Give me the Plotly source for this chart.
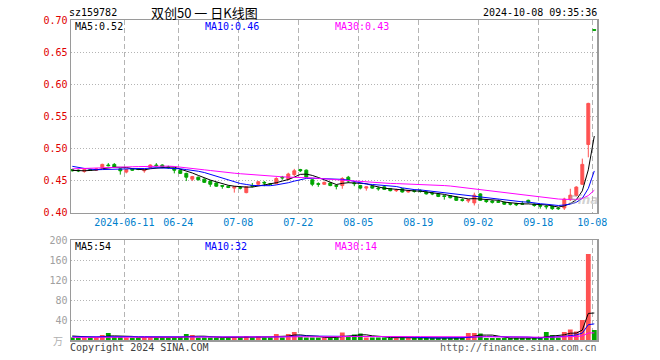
import plotly.graph_objects as go

# ---------------- data ----------------
dates = [
    "2024-05-28", "2024-05-29", "2024-05-30", "2024-05-31",
    "2024-06-03", "2024-06-04", "2024-06-05", "2024-06-06", "2024-06-07",
    "2024-06-11", "2024-06-12", "2024-06-13", "2024-06-14",
    "2024-06-17", "2024-06-18", "2024-06-19", "2024-06-20", "2024-06-21",
    "2024-06-24", "2024-06-25", "2024-06-26", "2024-06-27", "2024-06-28",
    "2024-07-01", "2024-07-02", "2024-07-03", "2024-07-04", "2024-07-05",
    "2024-07-08", "2024-07-09", "2024-07-10", "2024-07-11", "2024-07-12",
    "2024-07-15", "2024-07-16", "2024-07-17", "2024-07-18", "2024-07-19",
    "2024-07-22", "2024-07-23", "2024-07-24", "2024-07-25", "2024-07-26",
    "2024-07-29", "2024-07-30", "2024-07-31", "2024-08-01", "2024-08-02",
    "2024-08-05", "2024-08-06", "2024-08-07", "2024-08-08", "2024-08-09",
    "2024-08-12", "2024-08-13", "2024-08-14", "2024-08-15", "2024-08-16",
    "2024-08-19", "2024-08-20", "2024-08-21", "2024-08-22", "2024-08-23",
    "2024-08-26", "2024-08-27", "2024-08-28", "2024-08-29", "2024-08-30",
    "2024-09-02", "2024-09-03", "2024-09-04", "2024-09-05", "2024-09-06",
    "2024-09-09", "2024-09-10", "2024-09-11", "2024-09-12", "2024-09-13",
    "2024-09-18", "2024-09-19", "2024-09-20",
    "2024-09-23", "2024-09-24", "2024-09-25", "2024-09-26", "2024-09-27",
    "2024-09-30", "2024-10-08",
]

opens = [
    0.467, 0.466, 0.464, 0.467, 0.466, 0.470, 0.474, 0.475, 0.468, 0.463,
    0.468, 0.468, 0.465, 0.470, 0.474, 0.474, 0.471, 0.468, 0.466, 0.461,
    0.452, 0.455, 0.452, 0.449, 0.446, 0.442, 0.441, 0.438, 0.439, 0.431,
    0.442, 0.444, 0.447, 0.445, 0.445, 0.455, 0.452, 0.459, 0.467, 0.466,
    0.451, 0.445, 0.444, 0.446, 0.442, 0.442, 0.455, 0.446, 0.442, 0.438,
    0.441, 0.438, 0.440, 0.437, 0.434, 0.437, 0.432, 0.434, 0.434, 0.432,
    0.430, 0.429, 0.426, 0.426, 0.424, 0.420, 0.418, 0.415, 0.429, 0.419,
    0.418, 0.417, 0.416, 0.414, 0.414, 0.414, 0.419, 0.413, 0.411, 0.410,
    0.410, 0.407, 0.407, 0.420, 0.4266, 0.444, 0.506, 0.685,
]
highs = [
    0.468, 0.467, 0.468, 0.468, 0.469, 0.476, 0.477, 0.477, 0.469, 0.468,
    0.469, 0.469, 0.468, 0.475, 0.477, 0.475, 0.473, 0.469, 0.467, 0.462,
    0.457, 0.456, 0.453, 0.450, 0.447, 0.443, 0.442, 0.441, 0.441, 0.441,
    0.446, 0.449, 0.449, 0.446, 0.455, 0.457, 0.462, 0.468, 0.468, 0.467,
    0.452, 0.447, 0.448, 0.447, 0.444, 0.455, 0.457, 0.449, 0.443, 0.441,
    0.442, 0.440, 0.441, 0.438, 0.437, 0.438, 0.435, 0.436, 0.436, 0.433,
    0.432, 0.430, 0.427, 0.427, 0.425, 0.422, 0.421, 0.431, 0.430, 0.420,
    0.419, 0.420, 0.417, 0.415, 0.415, 0.418, 0.420, 0.414, 0.412, 0.412,
    0.411, 0.408, 0.423, 0.437, 0.441, 0.484, 0.571, 0.685,
]
lows = [
    0.464, 0.463, 0.462, 0.465, 0.465, 0.469, 0.472, 0.470, 0.459, 0.461,
    0.465, 0.466, 0.462, 0.469, 0.471, 0.469, 0.468, 0.461, 0.460, 0.449,
    0.449, 0.450, 0.446, 0.440, 0.440, 0.437, 0.438, 0.431, 0.436, 0.430,
    0.439, 0.443, 0.441, 0.443, 0.444, 0.451, 0.450, 0.457, 0.463, 0.454,
    0.441, 0.440, 0.443, 0.441, 0.436, 0.437, 0.446, 0.441, 0.436, 0.434,
    0.437, 0.434, 0.435, 0.433, 0.432, 0.431, 0.431, 0.431, 0.431, 0.428,
    0.427, 0.424, 0.420, 0.422, 0.418, 0.417, 0.415, 0.411, 0.418, 0.415,
    0.414, 0.415, 0.412, 0.411, 0.410, 0.412, 0.414, 0.409, 0.406, 0.405,
    0.404, 0.404, 0.404, 0.418, 0.425, 0.443, 0.486, 0.684,
]
closes = [
    0.465, 0.465, 0.467, 0.466, 0.468, 0.475, 0.473, 0.471, 0.465, 0.467,
    0.466, 0.467, 0.467, 0.474, 0.473, 0.470, 0.470, 0.466, 0.461, 0.455,
    0.456, 0.451, 0.447, 0.444, 0.441, 0.441, 0.439, 0.440, 0.438, 0.440,
    0.441, 0.448, 0.446, 0.444, 0.453, 0.454, 0.460, 0.465, 0.465, 0.455,
    0.444, 0.444, 0.447, 0.442, 0.441, 0.453, 0.449, 0.445, 0.438, 0.440,
    0.438, 0.437, 0.436, 0.434, 0.435, 0.432, 0.434, 0.433, 0.433, 0.429,
    0.429, 0.425, 0.425, 0.423, 0.419, 0.419, 0.420, 0.427, 0.419, 0.417,
    0.416, 0.416, 0.413, 0.413, 0.412, 0.413, 0.416, 0.411, 0.410, 0.409,
    0.406, 0.406, 0.421, 0.427, 0.4396, 0.475, 0.570, 0.684,
]
volumes = [
    5, 5, 5, 6, 5, 10, 14, 6, 6, 5,
    5, 5, 5, 5, 5, 6, 5, 5, 6, 12,
    10, 5, 5, 5, 5, 5, 5, 5, 5, 8,
    5, 8, 5, 5, 12, 5, 12, 16, 6, 5,
    5, 5, 5, 5, 5, 15, 8, 11, 13, 5,
    5, 5, 5, 4, 4, 5, 4, 4, 4, 4,
    4, 4, 4, 4, 4, 4, 14, 14, 13, 4,
    4, 4, 4, 4, 4, 4, 4, 4, 5, 16,
    10, 5, 16, 21, 17, 40, 172, 20,
]
# the 29 sessions before the window (needed for the moving averages)
prior_closes = [
    0.452, 0.455, 0.458, 0.456, 0.459, 0.462, 0.460, 0.458, 0.461, 0.463,
    0.460, 0.462, 0.464, 0.461, 0.469, 0.476, 0.482, 0.486, 0.489, 0.487,
    0.484, 0.481, 0.476, 0.478, 0.473, 0.469, 0.466, 0.463, 0.465,
]
prior_volumes = [
    5, 4, 5, 5, 4, 5, 5, 5, 4, 5, 5, 5, 4, 5, 5,
    5, 4, 5, 5, 5, 4, 5, 5, 5, 5, 8, 9, 10, 8,
]

price_ticks = [0.40, 0.45, 0.50, 0.55, 0.60, 0.65, 0.70]
price_tick_labels = ["0.40", "0.45", "0.50", "0.55", "0.60", "0.65", "0.70"]
vol_ticks = [40, 80, 120, 160, 200]
vol_tick_labels = ["40", "80", "120", "160", "200"]
tick_dates = ["2024-06-11", "2024-06-24", "2024-07-08", "2024-07-22", "2024-08-05",
              "2024-08-19", "2024-09-02", "2024-09-18", "2024-10-08"]
tick_labels = ["2024-06-11", "06-24", "07-08", "07-22", "08-05",
               "08-19", "09-02", "09-18", "10-08"]

price_ma_labels = ["MA5:0.52", "MA10:0.46", "MA30:0.43"]
vol_ma_labels = ["MA5:54", "MA10:32", "MA30:14"]

# ---------------- styles ----------------
RED = "#ff5252"
GREEN = "#00a600"
MA_COLORS = ["#000000", "#0000ff", "#ff00ff"]
MONO = "DejaVu Sans Mono"
CJK = "Noto Sans CJK SC"
GRID = "#b4b4b4"
BORDER = "#9a9a9a"

idx = list(range(len(dates)))


def moving_avg(prior, values, n):
    full = list(prior) + list(values)
    off = len(prior)
    return [sum(full[off + i - n + 1: off + i + 1]) / n for i in range(len(values))]


fig = go.Figure()

fig.add_trace(go.Candlestick(
    x=idx, open=opens, high=highs, low=lows, close=closes,
    increasing=dict(line=dict(color=RED, width=1), fillcolor=RED),
    decreasing=dict(line=dict(color=GREEN, width=1), fillcolor=GREEN),
    whiskerwidth=0, xaxis="x", yaxis="y", hoverinfo="skip", showlegend=False,
))

for n, col in zip([5, 10, 30], MA_COLORS):
    fig.add_trace(go.Scatter(
        x=idx, y=moving_avg(prior_closes, closes, n), mode="lines",
        line=dict(color=col, width=1), xaxis="x", yaxis="y",
        hoverinfo="skip", showlegend=False,
    ))

vol_colors = [RED if c > o else GREEN for o, c in zip(opens, closes)]
fig.add_trace(go.Bar(
    x=idx, y=volumes, marker=dict(color=vol_colors, line=dict(width=0)),
    width=0.8, xaxis="x2", yaxis="y2", hoverinfo="skip", showlegend=False,
))
for n, col in zip([5, 10, 30], MA_COLORS):
    fig.add_trace(go.Scatter(
        x=idx, y=moving_avg(prior_volumes, volumes, n), mode="lines",
        line=dict(color=col, width=1), xaxis="x2", yaxis="y2",
        hoverinfo="skip", showlegend=False,
    ))

# ---------------- layout ----------------
W, H = 660, 360
ML, MR, MT, MB = 71, 63, 20, 20
PW, PH = W - ML - MR, H - MT - MB


def px_x(px):
    return (px - ML) / PW


def px_y(py):
    return (H - MB - py) / PH


first_x = 72.3  # pixel centre of the first session
xr = [(ML - first_x) / 6.0, (W - MR - first_x) / 6.0]
tickvals = [dates.index(d) - 1 / 3 for d in tick_dates]

common_x = dict(
    range=xr, tickvals=tickvals, showgrid=True, gridcolor=GRID, griddash="5px,3px",
    gridwidth=1, showline=True, linecolor=BORDER, linewidth=1.5, mirror=True,
    zeroline=False, ticks="", fixedrange=True,
)

fig.update_layout(
    width=W, height=H,
    margin=dict(l=ML, r=MR, t=MT, b=MB),
    paper_bgcolor="white", plot_bgcolor="white",
    boxgap=0.3,
    showlegend=False,
    xaxis=dict(**common_x, anchor="y", ticktext=tick_labels,
               tickfont=dict(family=MONO, size=10, color="#0080cc"),
               rangeslider=dict(visible=False)),
    xaxis2=dict(**common_x, anchor="y2", matches="x", showticklabels=False),
    yaxis=dict(domain=[px_y(212.5), 1], range=[0.40, 0.70], tickvals=price_ticks,
               ticktext=price_tick_labels, tickfont=dict(family=MONO, size=10, color="#e00000"),
               showgrid=True, gridcolor=GRID, griddash="1px,2px", gridwidth=1,
               showline=True, linecolor=BORDER, linewidth=1.5, mirror=True,
               zeroline=False, ticks="", fixedrange=True),
    yaxis2=dict(domain=[0, px_y(240)], range=[0, 200], tickvals=vol_ticks,
                ticktext=vol_tick_labels, tickfont=dict(family=MONO, size=10, color="#a0a0a0"),
                showgrid=True, gridcolor=GRID, griddash="1px,2px", gridwidth=1,
                showline=True, linecolor=BORDER, linewidth=1.5, mirror=True,
                zeroline=False, ticks="", fixedrange=True),
)

ann = []


def add_text(text, px, py, anchor="left", color="#000000", size=10, family=MONO, **kw):
    ann.append(dict(text=text, x=px_x(px), y=px_y(py), xref="paper", yref="paper",
                    xanchor=anchor, yanchor="middle", showarrow=False,
                    font=dict(family=family, size=size, color=color), borderpad=0, **kw))


add_text("sz159782", 68, 13)
add_text("双创50 一 日K线图", 150, 13, family=CJK, size=13)
add_text("2024-10-08 09:35:36", 598, 13, anchor="right")
for lab, col, x0 in zip(price_ma_labels, MA_COLORS, [74, 204, 334]):
    add_text(lab, x0, 26, color=col)
for lab, col, x0 in zip(vol_ma_labels, MA_COLORS, [74, 204, 334]):
    add_text(lab, x0, 246, color=col)
add_text("Copyright 2024 SINA.COM", 69, 347, color="#404040")
add_text("http://finance.sina.com.cn", 598, 347, anchor="right", color="#606060")
add_text("万", 58, 340, anchor="center", color="#b0b0b0", family=CJK, size=10)
add_text("<i><b>Sina</b></i>", 583, 200, anchor="center", color="rgba(170,170,170,0.55)",
         family="DejaVu Sans", size=12)

fig.update_layout(annotations=ann)

fig.write_html("out.html",
               config={"displayModeBar": False, "staticPlot": True},
               post_script="document.body.style.margin='0';document.body.style.padding='0';")
